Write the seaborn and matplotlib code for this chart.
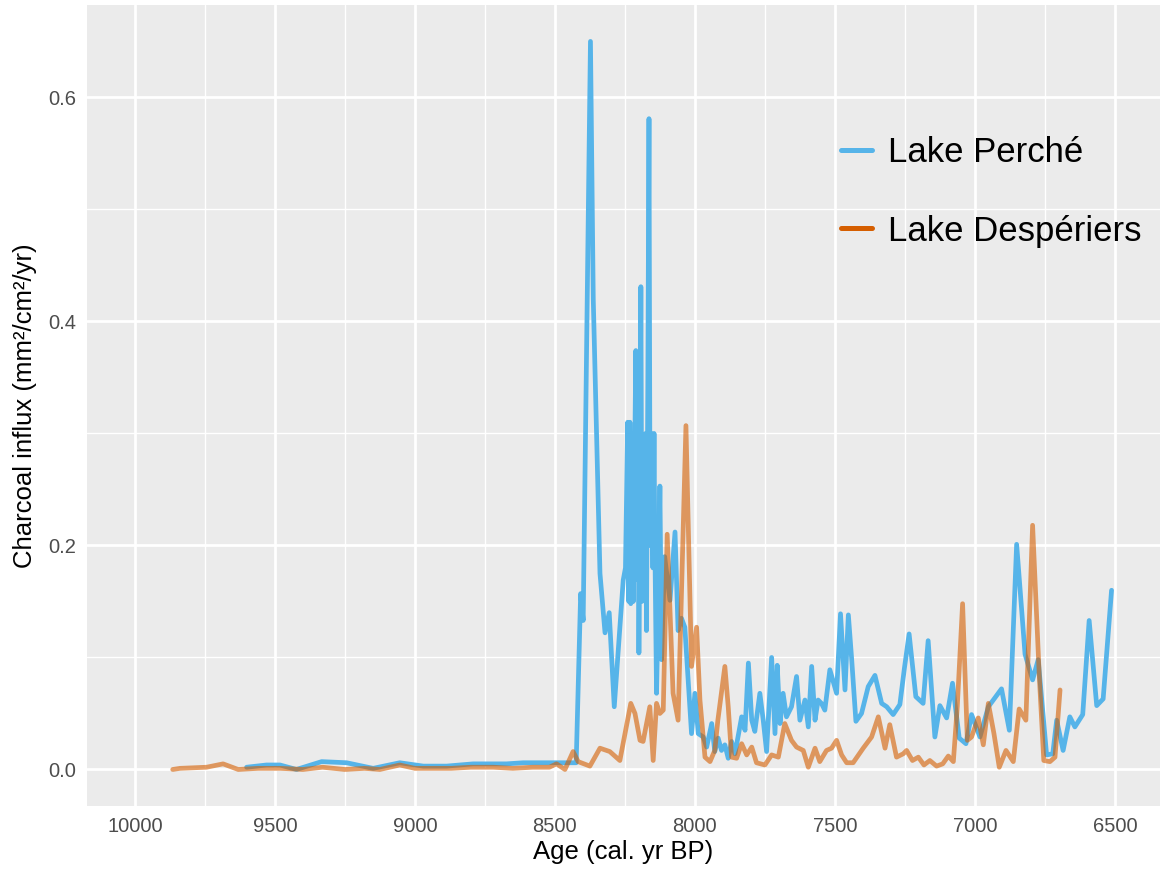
import numpy as np
import pandas as pd
import matplotlib.pyplot as plt
from matplotlib.lines import Line2D
import seaborn as sns

# ggplot-like look
sns.set_style("darkgrid", {"axes.facecolor": "#EBEBEB", "grid.color": "white"})
plt.rcParams["font.family"] = ["Liberation Sans", "DejaVu Sans"]

# Lake Perché (age in cal. yr BP, charcoal influx)
perche_age = [9601, 9530, 9482, 9423, 9333, 9244, 9149, 9054, 8970, 8887,
              8792, 8673, 8613, 8530, 8424, 8408, 8399, 8373, 8363, 8339,
              8321, 8306, 8288, 8256, 8248, 8240, 8236, 8232, 8229, 8225,
              8220, 8215, 8211, 8207, 8203, 8200, 8196, 8193, 8189, 8184,
              8180, 8176, 8173, 8168, 8164, 8160, 8156, 8150, 8146, 8143,
              8137, 8130, 8125, 8119, 8108, 8089, 8071, 8060, 8048,
              8036, 8030, 8012, 8000, 7988, 7970, 7958, 7940, 7929, 7917,
              7905, 7893, 7881, 7869, 7857, 7833, 7821, 7809, 7797, 7786,
              7768, 7756, 7744, 7726, 7714, 7706, 7696, 7685, 7673, 7655,
              7637, 7625, 7607, 7595, 7583, 7571, 7560, 7548, 7536, 7518,
              7494, 7480, 7464, 7452, 7440, 7425, 7405, 7381, 7357, 7333,
              7315, 7292, 7268, 7252, 7235, 7211, 7185, 7167, 7143, 7125,
              7101, 7080, 7056, 7032, 7012, 6982, 6952, 6905, 6877, 6851,
              6821, 6794, 6774, 6744, 6722, 6708, 6685, 6661, 6643, 6615,
              6592, 6565, 6542, 6512]
perche_val = [0.002, 0.004, 0.004, 0.000, 0.007, 0.006, 0.001, 0.006, 0.003, 0.003,
              0.005, 0.005, 0.006, 0.006, 0.006, 0.157, 0.133, 0.650, 0.420, 0.175,
              0.122, 0.140, 0.056, 0.169, 0.180, 0.310, 0.150, 0.310, 0.148, 0.300,
              0.150, 0.280, 0.374, 0.170, 0.300, 0.104, 0.250, 0.431, 0.150, 0.280,
              0.200, 0.300, 0.124, 0.350, 0.581, 0.200, 0.300, 0.180, 0.300, 0.200,
              0.068, 0.160, 0.253, 0.098, 0.190, 0.151, 0.212, 0.124, 0.135,
              0.127, 0.104, 0.032, 0.068, 0.032, 0.029, 0.020, 0.041, 0.016, 0.028,
              0.017, 0.022, 0.010, 0.025, 0.014, 0.047, 0.035, 0.095, 0.044, 0.034,
              0.068, 0.044, 0.016, 0.100, 0.032, 0.093, 0.041, 0.068, 0.047, 0.056,
              0.083, 0.044, 0.062, 0.038, 0.092, 0.044, 0.062, 0.059, 0.053, 0.089,
              0.068, 0.139, 0.071, 0.138, 0.098, 0.043, 0.050, 0.074, 0.084, 0.059,
              0.056, 0.049, 0.058, 0.090, 0.121, 0.065, 0.059, 0.115, 0.029, 0.057,
              0.046, 0.077, 0.028, 0.023, 0.049, 0.029, 0.056, 0.072, 0.035, 0.201,
              0.103, 0.080, 0.098, 0.013, 0.014, 0.044, 0.017, 0.047, 0.038, 0.049,
              0.133, 0.057, 0.063, 0.160]

# Lake Despériers
desp_age = [9865, 9839, 9744, 9685, 9631, 9560, 9480, 9400, 9330, 9250,
            9180, 9125, 9054, 9000, 8940, 8870, 8800, 8720, 8650, 8580,
            8520, 8494, 8464, 8435, 8417, 8375, 8339, 8304, 8268, 8229,
            8214, 8196, 8185, 8161, 8149, 8137, 8125, 8113, 8099, 8078,
            8060, 8048, 8032, 8012, 7994, 7982, 7964, 7946, 7929, 7918,
            7893, 7881, 7869, 7851, 7833, 7815, 7797, 7780, 7750, 7726,
            7702, 7679, 7655, 7637, 7613, 7595, 7571, 7554, 7530, 7512,
            7494, 7476, 7458, 7435, 7399, 7369, 7345, 7321, 7304, 7280,
            7256, 7244, 7223, 7202, 7182, 7161, 7137, 7115, 7095, 7077,
            7063, 7044, 7027, 7012, 6988, 6970, 6952, 6932, 6913, 6889,
            6863, 6842, 6818, 6794, 6770, 6754, 6732, 6714, 6696]
desp_val = [0.000, 0.001, 0.002, 0.005, 0.000, 0.001, 0.001, 0.000, 0.002, 0.000,
            0.001, 0.000, 0.004, 0.001, 0.001, 0.001, 0.002, 0.002, 0.001, 0.002,
            0.002, 0.005, 0.000, 0.016, 0.007, 0.003, 0.019, 0.016, 0.008, 0.059,
            0.050, 0.026, 0.025, 0.056, 0.008, 0.059, 0.050, 0.053, 0.210, 0.068,
            0.044, 0.157, 0.307, 0.092, 0.127, 0.062, 0.011, 0.007, 0.017, 0.044,
            0.092, 0.056, 0.011, 0.010, 0.023, 0.013, 0.020, 0.006, 0.004, 0.013,
            0.011, 0.041, 0.026, 0.020, 0.017, 0.002, 0.019, 0.007, 0.017, 0.019,
            0.026, 0.013, 0.006, 0.006, 0.019, 0.029, 0.047, 0.019, 0.040, 0.011,
            0.014, 0.017, 0.008, 0.011, 0.004, 0.008, 0.003, 0.005, 0.012, 0.007,
            0.056, 0.148, 0.026, 0.029, 0.046, 0.022, 0.059, 0.032, 0.002, 0.017,
            0.007, 0.054, 0.044, 0.218, 0.083, 0.008, 0.007, 0.011, 0.071]

x_ticks = [10000, 9500, 9000, 8500, 8000, 7500, 7000, 6500]
y_ticks = [0.0, 0.2, 0.4, 0.6]

df_p = pd.DataFrame({"Age": perche_age, "Influx": perche_val})
df_d = pd.DataFrame({"Age": desp_age, "Influx": desp_val})

blue = "#56B4E9"
orange = "#D55E00"

fig = plt.figure(figsize=(11.6, 8.75), dpi=100)
ax = fig.add_axes([0.075, 0.079, 0.925, 0.9153])

sns.lineplot(data=df_p, x="Age", y="Influx", color=blue, linewidth=3.4,
             ax=ax, legend=False, estimator=None)
sns.lineplot(data=df_d, x="Age", y="Influx", color=orange, linewidth=3.4,
             alpha=0.6, ax=ax, legend=False, estimator=None)

ax.set_xlim(10171, 6339)
ax.set_ylim(-0.0325, 0.6825)
ax.set_xticks(x_ticks)
ax.set_xticklabels([str(t) for t in x_ticks])
ax.set_yticks(y_ticks)
ax.set_yticklabels([f"{t:.1f}" for t in y_ticks])
ax.set_xticks([9750, 9250, 8750, 8250, 7750, 7250, 6750], minor=True)
ax.set_yticks([0.1, 0.3, 0.5], minor=True)
ax.grid(which="major", color="white", linewidth=2.0)
ax.grid(which="minor", color="white", linewidth=1.0)
ax.tick_params(which="major", length=4, width=1.1, color="#333333",
               labelsize=14.5, labelcolor="#4D4D4D", pad=4)
ax.tick_params(which="minor", length=0)
for s in ax.spines.values():
    s.set_visible(False)

ax.set_xlabel("Age (cal. yr BP)", fontsize=18.5, color="black", labelpad=3)
ax.set_ylabel("Charcoal influx (mm²/cm²/yr)", fontsize=18.5, color="black", labelpad=8)

handles = [Line2D([0], [0], color=blue, lw=3.6),
           Line2D([0], [0], color=orange, lw=3.6)]
ax.legend(handles, ["Lake Perché", "Lake Despériers"], frameon=False,
          fontsize=25, loc="upper left", bbox_to_anchor=(0.713, 0.86),
          bbox_transform=fig.transFigure, handlelength=0.9, labelcolor="black",
          handletextpad=0.45, labelspacing=1.3, borderaxespad=0)

fig.savefig("out.png", dpi=100)
